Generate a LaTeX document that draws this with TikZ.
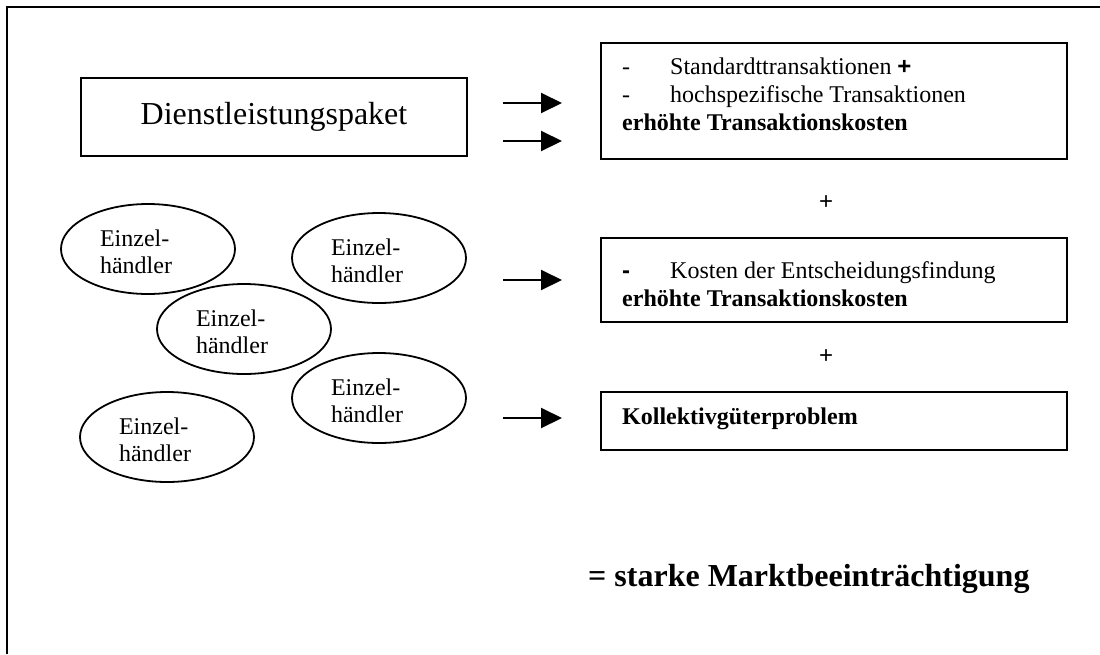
\documentclass[tikz,border=0pt]{standalone}
\usepackage{fontspec}
\setmainfont{Liberation Serif}
\newfontfamily\arialf{Liberation Sans}
\usetikzlibrary{arrows.meta,shapes.geometric,calc}

\tikzset{
  frameline/.style={line width=2.5pt},
  boxframe/.style={draw, line width=2pt, inner sep=0pt, anchor=north west},
  ell/.style={draw, ellipse, line width=1.8pt, minimum width=174pt, minimum height=90pt, inner sep=0pt},
  etext/.style={inner sep=0pt, align=left, font=\fontsize{24}{27}\selectfont},
  txt/.style={inner sep=0pt, anchor=base west, font=\fontsize{24}{27}\selectfont},
  btxt/.style={txt, font=\fontsize{24}{27}\selectfont\bfseries},
  plus/.style={inner sep=0pt, font=\fontsize{24}{27}\selectfont\arialf},
  arr/.style={line width=2pt, -{Triangle[length=21pt,width=20pt]}}
}

\begin{document}
\begin{tikzpicture}[x=1pt,y=-1pt]
\useasboundingbox (0,0) rectangle (1100,654);

% outer frame
\draw[frameline] (7,654) -- (7,7) -- (1100,7);

% service package
\node[boxframe, minimum width=386pt, minimum height=78pt] (pkg) at (80,77) {};
\node[inner sep=0pt, font=\fontsize{32}{36}\selectfont] (pkgt) at (pkg.center) {Dienstleistungspaket};

% right-hand boxes
\node[boxframe, minimum width=466pt, minimum height=116pt] (b1) at (600,42) {};
\node[boxframe, minimum width=466pt, minimum height=84pt] (b2) at (600,237) {};
\node[boxframe, minimum width=466pt, minimum height=58pt] (b3) at (600,391) {};

% box 1 text
\node[txt] (b1d1) at (622,74) {-};
\node[txt] (b1l1) at (670,74) {Standardttransaktionen {\arialf\bfseries +}};
\node[txt] (b1d2) at (622,102) {-};
\node[txt] (b1l2) at (670,102) {hochspezifische Transaktionen};
\node[btxt] (b1l3) at (622,130) {erhöhte Transaktionskosten};

% box 2 text
\node[txt] (b2d1) at (622,278) {\arialf\bfseries -};
\node[txt] (b2l1) at (670,278) {Kosten der Entscheidungsfindung};
\node[btxt] (b2l2) at (622,306) {erhöhte Transaktionskosten};

% box 3 text
\node[btxt] (b3l1) at (622,424) {Kollektivgüterproblem};

% plus signs between boxes
\node[plus] (p1) at (826,203) {+};
\node[plus] (p2) at (826,357) {+};

% retailers
\node[ell] (e1) at (148,249) {};
\node[ell] (e2) at (379,258) {};
\node[ell] (e3) at (244,329) {};
\node[ell] (e4) at (379,398) {};
\node[ell] (e5) at (167,437) {};
\foreach \e in {e1,e2,e3,e4,e5}
  \node[etext] (\e t) at ($(\e)+(-12,2.5)$) {Einzel-\\händler};

% arrows
\coordinate (a1s) at (503,103); \coordinate (a1e) at (562,103);
\coordinate (a2s) at (503,141); \coordinate (a2e) at (562,141);
\coordinate (a3s) at (503,280); \coordinate (a3e) at (562,280);
\coordinate (a4s) at (503,418); \coordinate (a4e) at (562,418);
\draw[arr] (a1s) -- (a1e);
\draw[arr] (a2s) -- (a2e);
\draw[arr] (a3s) -- (a3e);
\draw[arr] (a4s) -- (a4e);

% conclusion
\node[inner sep=0pt, anchor=base west, font=\fontsize{32}{36}\selectfont\bfseries] (res) at (588,586) {= starke Marktbeeinträchtigung};
\end{tikzpicture}
\end{document}
